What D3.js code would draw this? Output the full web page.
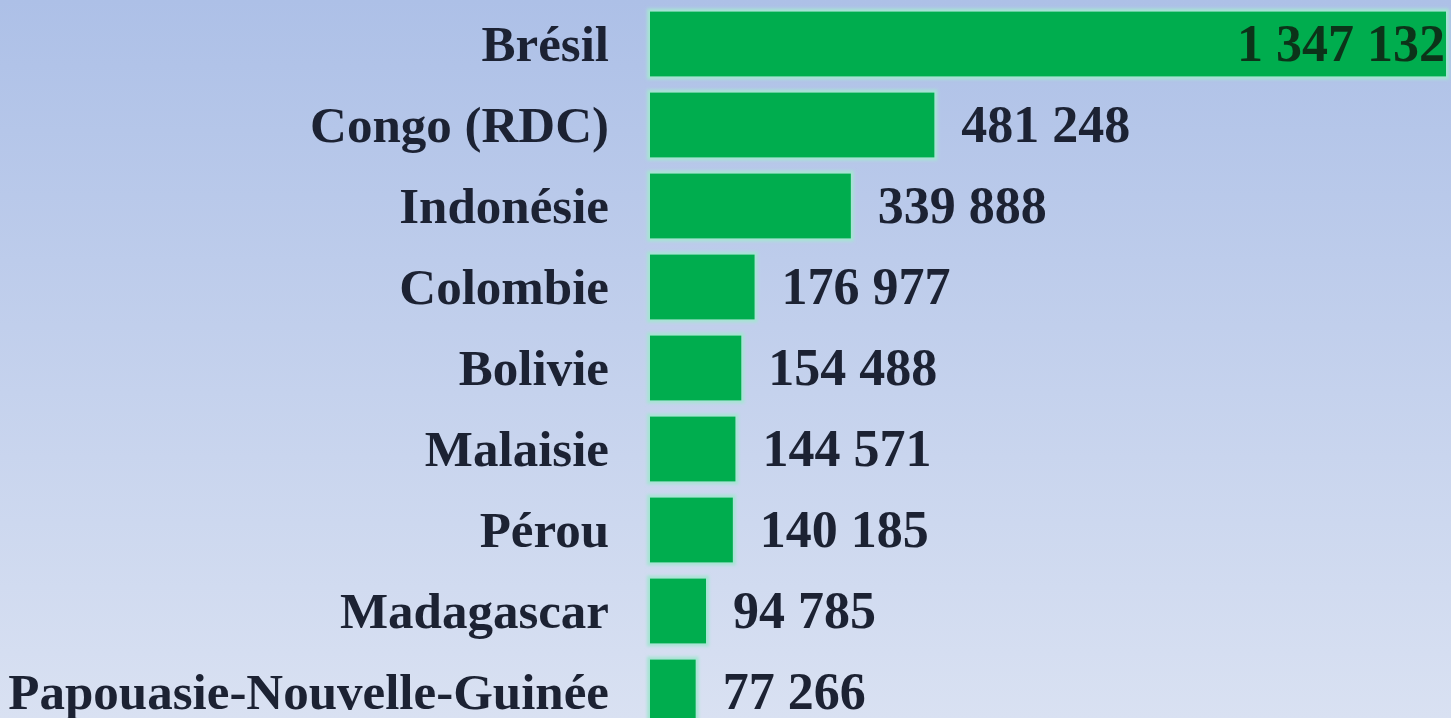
<!DOCTYPE html>
<html>
<head>
<meta charset="utf-8">
<script src="https://cdn.jsdelivr.net/npm/d3@7/dist/d3.min.js"></script>
<style>
  html, body { margin: 0; padding: 0; overflow: hidden; }
  svg { display: block; }
</style>
</head>
<body>
<svg id="chart" width="1451" height="718"></svg>
<script>
// Forest area by country (hectares, thousands)
const countries = ["Brésil", "Congo (RDC)", "Indonésie", "Colombie", "Bolivie",
                   "Malaisie", "Pérou", "Madagascar", "Papouasie-Nouvelle-Guinée"];
const values = [1347132, 481248, 339888, 176977, 154488, 144571, 140185, 94785, 77266];

const W = 1451, H = 718;
const svg = d3.select("#chart");
const defs = svg.append("defs");

const bg = defs.append("linearGradient").attr("id", "bg")
  .attr("x1", 0).attr("y1", 0).attr("x2", 0).attr("y2", 1);
bg.append("stop").attr("offset", "0%").attr("stop-color", "#adc0e7");
bg.append("stop").attr("offset", "100%").attr("stop-color", "#d9e1f2");

defs.append("filter").attr("id", "soft")
  .attr("x", "-5%").attr("y", "-20%").attr("width", "110%").attr("height", "140%")
  .append("feGaussianBlur").attr("stdDeviation", 1.5);

svg.append("rect").attr("width", W).attr("height", H).attr("fill", "url(#bg)");

const fmt = v => d3.format(",")(v).replace(/,/g, " ");

const x = d3.scaleLinear().domain([0, d3.max(values)]).range([650, 1446]);
const y = d3.scaleBand().domain(countries).range([3.5, 732.5])
  .paddingInner(0.2).paddingOuter(0.1);

const rows = countries.map((c, i) => ({ c, v: values[i] }));

// light halo around each bar
svg.append("g").selectAll("rect").data(rows).join("rect")
  .attr("x", x(0) - 3)
  .attr("y", d => y(d.c) - 3)
  .attr("width", d => x(d.v) - x(0) + 6)
  .attr("height", y.bandwidth() + 6)
  .attr("fill", "#a6e4d3")
  .attr("filter", "url(#soft)");

svg.append("g").selectAll("rect").data(rows).join("rect")
  .attr("x", x(0))
  .attr("y", d => y(d.c))
  .attr("width", d => x(d.v) - x(0))
  .attr("height", y.bandwidth())
  .attr("fill", "#00ad4e");

const font = "'Liberation Serif', 'Times New Roman', serif";

// category labels
svg.append("g").selectAll("text").data(rows).join("text")
  .attr("x", 609)
  .attr("y", d => y(d.c) + y.bandwidth() / 2 + 17)
  .attr("text-anchor", "end")
  .attr("font-family", font)
  .attr("font-weight", "bold")
  .attr("font-size", 51)
  .attr("fill", "#1c2233")
  .text(d => d.c);

// value labels: inside the longest bar, beside the others
const maxV = d3.max(values);
svg.append("g").selectAll("text").data(rows).join("text")
  .attr("x", d => d.v === maxV ? x(d.v) - 1 : x(d.v) + 27)
  .attr("y", d => y(d.c) + y.bandwidth() / 2 + 17)
  .attr("text-anchor", d => d.v === maxV ? "end" : "start")
  .attr("font-family", font)
  .attr("font-weight", "bold")
  .attr("font-size", 52)
  .attr("fill", d => d.v === maxV ? "#0c3319" : "#1c2233")
  .text(d => fmt(d.v));
</script>
</body>
</html>
